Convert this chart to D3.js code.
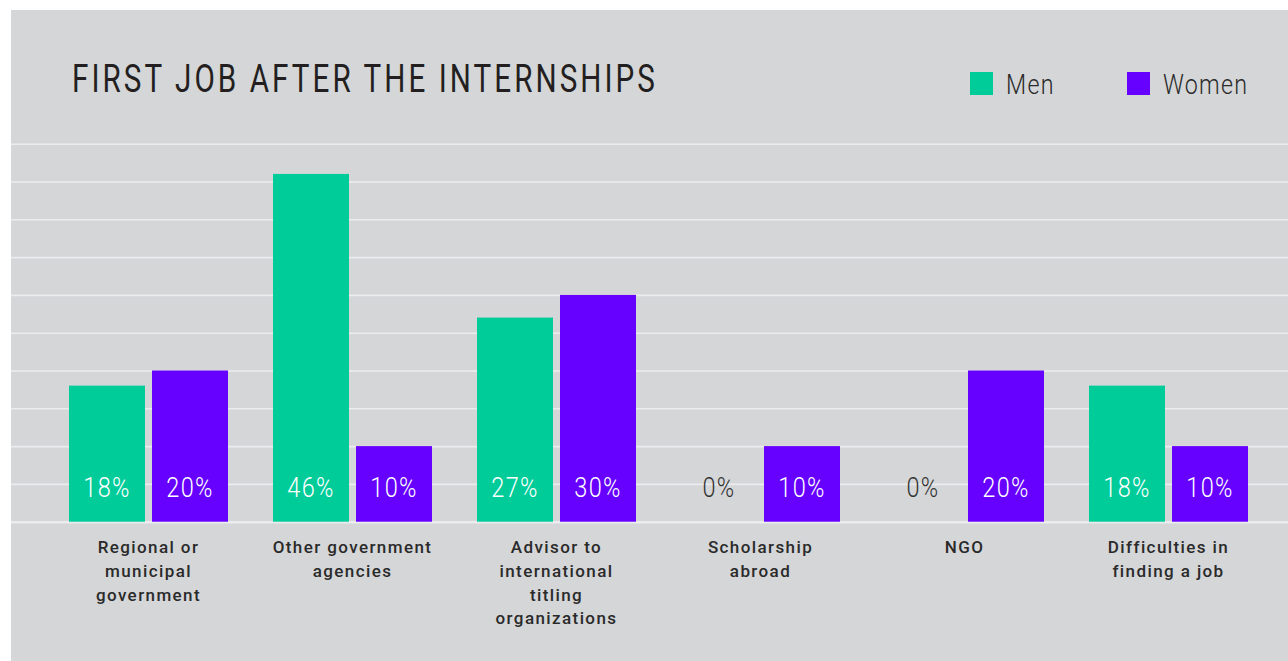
<!DOCTYPE html>
<html>
<head>
<meta charset="utf-8">
<script src="https://cdn.jsdelivr.net/npm/d3@7"></script>
<style>
  body { margin: 0; background: #fff; }
  text { font-family: Roboto, "DejaVu Sans", sans-serif; }
</style>
</head>
<body>
<svg width="1288" height="661"></svg>
<script>
var categories = [
  ['Regional or', 'municipal', 'government'],
  ['Other government', 'agencies'],
  ['Advisor to', 'international', 'titling', 'organizations'],
  ['Scholarship', 'abroad'],
  ['NGO'],
  ['Difficulties in', 'finding a job']
];
var series = ['Men', 'Women'];
var men = [18, 46, 27, 0, 0, 18];
var women = [20, 10, 30, 10, 20, 10];
var gridTicks = [0, 5, 10, 15, 20, 25, 30, 35, 40, 45, 50];
var colors = { Men: '#00cc99', Women: '#6600ff' };

var svg = d3.select('svg');

// squeeze glyphs a bit, the original font is a narrow DIN-like face
function condense(sel, k) {
  sel.each(function() {
    var len = this.getComputedTextLength();
    d3.select(this)
      .attr('textLength', len * k)
      .attr('lengthAdjust', 'spacingAndGlyphs');
  });
}

svg.append('rect')
  .attr('x', 11).attr('y', 10)
  .attr('width', 1277).attr('height', 651)
  .attr('fill', '#d5d6d8');

var x0 = d3.scaleBand()
           .domain(d3.range(categories.length))
           .range([46.5, 1270.5])
           .paddingInner(45 / 204)
           .paddingOuter(22.5 / 204);

var x1 = d3.scaleBand()
           .domain(series)
           .range([0, x0.bandwidth()])
           .paddingInner(7 / 83);

var y = d3.scaleLinear()
          .domain([0, 50])
          .range([521.7, 143.7]);

// gridlines
svg.append('g')
  .attr('transform', 'translate(11,0)')
  .call(d3.axisLeft(y).tickValues(gridTicks).tickSize(-1277).tickFormat(''))
  .call(g => g.select('.domain').remove())
  .call(g => g.selectAll('line')
              .attr('stroke', '#ececee')
              .attr('stroke-width', d => d === 0 ? 2.5 : 1.6));

var rows = categories.map((c, i) => ({ i: i, values: [
  { key: 'Men', value: men[i] },
  { key: 'Women', value: women[i] }
]}));

var groups = svg.selectAll('g.group')
  .data(rows)
  .enter()
  .append('g')
    .attr('class', 'group')
    .attr('transform', d => 'translate(' + x0(d.i) + ',0)');

groups.selectAll('rect')
  .data(d => d.values)
  .enter()
  .append('rect')
    .attr('x', d => x1(d.key))
    .attr('y', d => y(d.value))
    .attr('width', x1.bandwidth())
    .attr('height', d => y(0) - y(d.value))
    .attr('fill', d => colors[d.key]);

groups.selectAll('text.value')
  .data(d => d.values)
  .enter()
  .append('text')
    .attr('class', 'value')
    .attr('x', d => x1(d.key) + x1.bandwidth() / 2)
    .attr('y', 497)
    .attr('text-anchor', 'middle')
    .attr('font-size', 28)
    .attr('font-weight', 300)
    .attr('letter-spacing', 1.5)
    .attr('fill', d => d.value === 0 ? '#333' : '#fff')
    .text(d => d.value + '%')
    .call(condense, 0.84);

groups.append('text')
  .attr('class', 'cat')
  .attr('text-anchor', 'middle')
  .attr('font-size', 17)
  .attr('font-weight', 500)
  .attr('letter-spacing', 1.4)
  .attr('fill', '#2a2a2a')
  .selectAll('tspan')
  .data(d => categories[d.i])
  .enter()
  .append('tspan')
    .attr('x', x0.bandwidth() / 2)
    .attr('y', (d, k) => 553 + k * 23.8)
    .text(d => d);

// title
svg.append('text')
  .attr('x', 72).attr('y', 92)
  .attr('font-size', 39)
  .attr('font-weight', 400)
  .attr('letter-spacing', 4)
  .attr('fill', '#231f20')
  .attr('textLength', 586)
  .attr('lengthAdjust', 'spacingAndGlyphs')
  .text('FIRST JOB AFTER THE INTERNSHIPS');

// legend
var legendX = [970, 1127];
var legend = svg.selectAll('g.legend')
  .data(series)
  .enter()
  .append('g')
    .attr('class', 'legend')
    .attr('transform', (d, i) => 'translate(' + legendX[i] + ',72)');

legend.append('rect')
  .attr('width', 23).attr('height', 23)
  .attr('fill', d => colors[d]);

legend.append('text')
  .attr('x', 36).attr('y', 22)
  .attr('font-size', 27)
  .attr('font-weight', 300)
  .attr('letter-spacing', 1.5)
  .attr('fill', '#2a2a2a')
  .text(d => d)
  .call(condense, 0.86);
</script>
</body>
</html>
